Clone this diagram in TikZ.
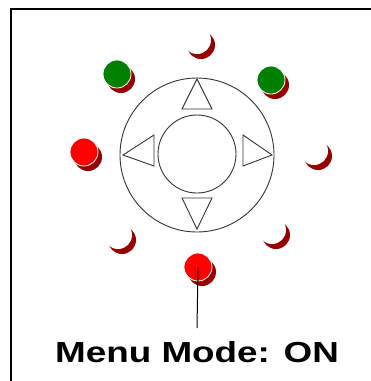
\documentclass[tikz,border=0pt]{standalone}
\usepackage{fontspec}
\setmainfont{Liberation Sans}
\usepackage{tikz}
\usetikzlibrary{positioning}
\definecolor{ledgreen}{RGB}{0,128,0}
\definecolor{ledred}{RGB}{255,0,0}
\definecolor{ledshade}{RGB}{150,0,0}
\tikzset{
    shadeled/.style={circle, fill=ledshade, minimum size=28pt, inner sep=0pt},
    frontled/.style={circle, fill=#1, draw=white, line width=0.8pt, minimum size=28pt, inner sep=0pt},
    arrowtri/.style={draw=black!80, line width=0.9pt, line join=miter}
}
\begin{document}
\begin{tikzpicture}[x=1pt, y=-1pt]
    \useasboundingbox (0,0) rectangle (371,381);
    \fill[white] (0,0) rectangle (371,381);
    % Frame, running off the right and bottom edges
    \draw[line width=2pt] (372,9) -- (11,9) -- (11,382);

    % Pad: outer ring and middle button
    \node[circle, draw=black!80, line width=0.9pt, minimum size=154pt, inner sep=0pt] (pad) at (197,155) {};
    \node[circle, draw=black!80, line width=0.9pt, minimum size=78pt, inner sep=0pt] (ok) at (197,154) {};

    % Direction arrows
    \draw[arrowtri] (197,79) -- (212,109) -- (182,109) -- cycle;
    \draw[arrowtri] (197,229) -- (212,198) -- (182,198) -- cycle;
    \draw[arrowtri] (123,155) -- (154,135) -- (154,166) -- cycle;
    \draw[arrowtri] (272,155) -- (243,135) -- (243,166) -- cycle;

    % Unlit LEDs
    \foreach \n/\x/\y in {ledT/197/40, ledR/314/151, ledBL/118/235, ledBR/272/230} {
        \node[shadeled] at (\x+4,\y+5) {};
        \node[circle, fill=white, minimum size=28pt, inner sep=0pt] (\n) at (\x,\y) {};
    }

    % Lit LEDs
    \foreach \n/\x/\y/\c in {ledTL/117/74/ledgreen, ledTR/271/80/ledgreen, ledL/84/152/ledred, ledB/198/267/ledred} {
        \node[shadeled] at (\x+4,\y+5) {};
        \node[frontled=\c] (\n) at (\x,\y) {};
    }

    % Label
    \node[anchor=base, inner sep=0pt, xscale=1.27, font=\fontsize{29}{34}\selectfont\bfseries] (mode) at (197,362) {Menu Mode: ON};
    \coordinate (lineend) at (197,328);
    \draw[line width=1pt] (ledB.center) -- (lineend);
\end{tikzpicture}
\end{document}
